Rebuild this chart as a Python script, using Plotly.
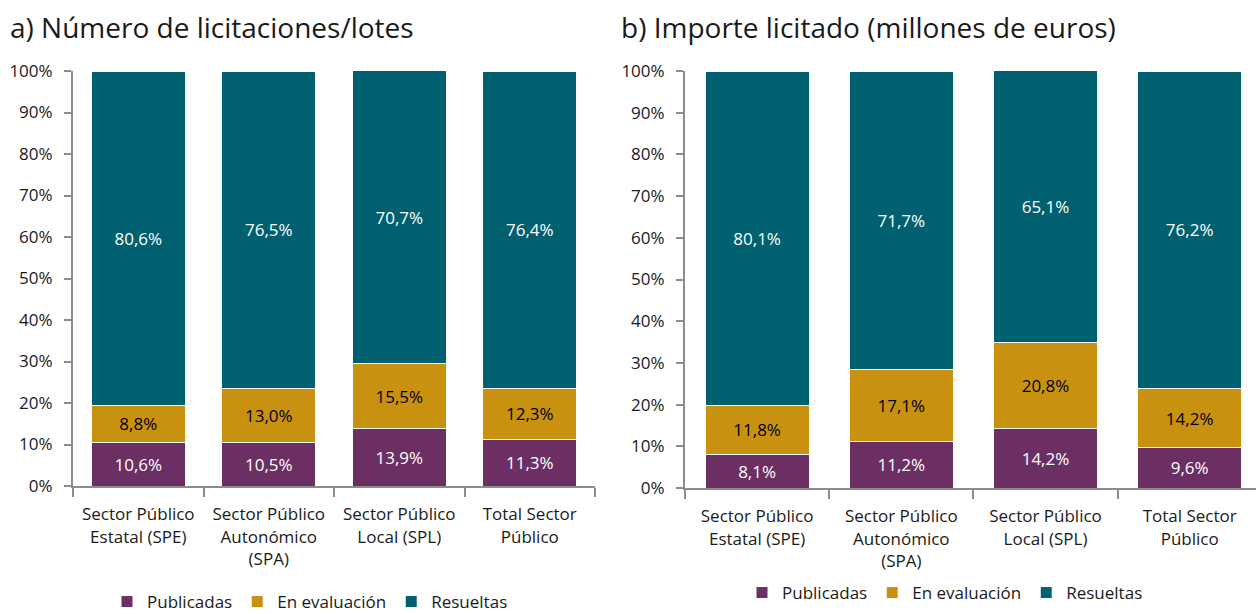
import plotly.graph_objects as go

categories = ["Sector Público<br>Estatal (SPE)", "Sector Público<br>Autonómico<br>(SPA)",
              "Sector Público<br>Local (SPL)", "Total Sector<br>Público"]
series_names = ["Publicadas", "En evaluación", "Resueltas"]

a_publicadas = [10.6, 10.5, 13.9, 11.3]
a_evaluacion = [8.8, 13.0, 15.5, 12.3]
a_resueltas = [80.6, 76.5, 70.7, 76.4]

b_publicadas = [8.1, 11.2, 14.2, 9.6]
b_evaluacion = [11.8, 17.1, 20.8, 14.2]
b_resueltas = [80.1, 71.7, 65.1, 76.2]

title_a = "a) Número de licitaciones/lotes"
title_b = "b) Importe licitado (millones de euros)"
y_ticks = [0, 10, 20, 30, 40, 50, 60, 70, 80, 90, 100]
y_ticklabels = [f"{v}%" for v in y_ticks]

colors = ["#6B2F63", "#C89110", "#006070"]
text_colors = ["white", "black", "white"]

FONT = "Open Sans"
FS = 17
W, H = 1256, 614

fig = go.Figure()

def fmt(v):
    return f"{v:.1f}%".replace(".", ",")

for panel, data, xa, ya, leg in [
    ("a", [a_publicadas, a_evaluacion, a_resueltas], "x", "y", "legend"),
    ("b", [b_publicadas, b_evaluacion, b_resueltas], "x2", "y2", "legend2"),
]:
    for name, vals, c, tc in zip(series_names, data, colors, text_colors):
        fig.add_trace(go.Bar(
            x=categories, y=vals, name=name,
            marker=dict(color=c, line=dict(color="white", width=1)),
            text=[fmt(v) for v in vals], textposition="inside",
            insidetextanchor="middle", textangle=0, constraintext="none",
            textfont=dict(color=tc, size=FS, family=FONT),
            xaxis=xa, yaxis=ya, legend=leg, hoverinfo="skip",
        ))

axis_color = "#8C8C8C"
text_color = "#1A1A1A"
common_x = dict(type="category", showline=True, linecolor=axis_color, linewidth=2,
                ticks="outside", tickson="boundaries", ticklen=9, tickcolor=axis_color,
                tickwidth=2, tickfont=dict(size=FS, color=text_color, family=FONT),
                showgrid=False, zeroline=False, fixedrange=True, ticklabelstandoff=12,
                automargin=False)
common_y = dict(range=[0, 100], tickvals=y_ticks, ticktext=y_ticklabels, showline=True,
                linecolor=axis_color, linewidth=2, ticks="outside", ticklen=7,
                tickcolor=axis_color, tickwidth=2, showgrid=False, zeroline=False,
                tickfont=dict(size=FS, color=text_color, family=FONT), ticklabelstandoff=8,
                automargin=False, fixedrange=True)

fig.update_layout(
    width=W, height=H,
    margin=dict(l=0, r=0, t=0, b=0, autoexpand=False),
    paper_bgcolor="white", plot_bgcolor="white",
    barmode="stack", bargap=0.28,
    font=dict(family=FONT, size=FS, color=text_color),
    xaxis=dict(domain=[73 / W, 595 / W], anchor="y", range=[-0.5, 3.5], **common_x),
    yaxis=dict(domain=[128 / H, 543 / H], anchor="x", **common_y),
    xaxis2=dict(domain=[685 / W, 1.0], anchor="y2", range=[-0.5, 3.46], **common_x),
    yaxis2=dict(domain=[126 / H, 543 / H], anchor="x2", **common_y),
    legend=dict(orientation="h", x=310 / W, xanchor="center", y=(H - 602) / H, yanchor="middle",
                font=dict(size=FS, family=FONT), traceorder="normal", itemwidth=30),
    legend2=dict(orientation="h", x=945 / W, xanchor="center", y=(H - 593) / H, yanchor="middle",
                 font=dict(size=FS, family=FONT), traceorder="normal", itemwidth=30),
    annotations=[
        dict(text=title_a, x=8 / W, y=(H - 27) / H, xref="paper", yref="paper",
             xanchor="left", yanchor="middle", showarrow=False,
             font=dict(size=28, family=FONT, color=text_color)),
        dict(text=title_b, x=619 / W, y=(H - 27) / H, xref="paper", yref="paper",
             xanchor="left", yanchor="middle", showarrow=False,
             font=dict(size=28, family=FONT, color=text_color)),
    ],
)

fig.write_html("out.html", config={"displayModeBar": False})

with open("out.html", "r", encoding="utf-8") as f:
    html = f.read()
html = html.replace("<head>", "<head><style>html,body{margin:0;padding:0;overflow:hidden;}</style>", 1)
with open("out.html", "w", encoding="utf-8") as f:
    f.write(html)
